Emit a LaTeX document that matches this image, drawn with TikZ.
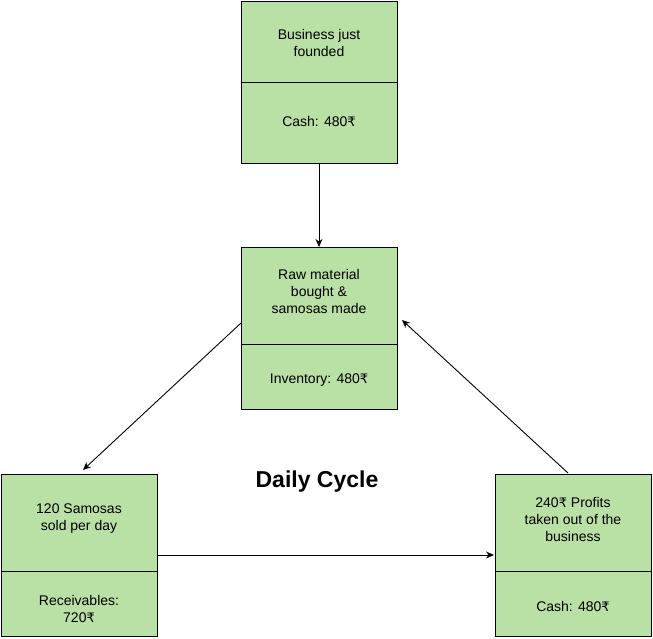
\documentclass[tikz,border=0pt]{standalone}
\usepackage{fontspec}
\setmainfont{Liberation Sans}
\newfontfamily\rupfont{DejaVu Sans}
\usetikzlibrary{arrows.meta,calc}
\newcommand{\Rs}{{\rupfont\fontsize{13}{17}\selectfont ₹}}
\definecolor{boxgreen}{HTML}{B9E0A5}
\tikzset{
  box/.style={draw=black, fill=boxgreen, line width=1pt, minimum width=156pt, minimum height=162pt, inner sep=0pt},
  divider/.style={draw=black, line width=1pt},
  txt/.style={align=center, inner sep=0pt, font=\fontsize{14}{17}\selectfont},
  conn/.style={draw=black, line width=0.9pt, -{Stealth[length=8pt,width=7pt]}},
}
\begin{document}
\begin{tikzpicture}[x=1pt,y=-1pt]
\useasboundingbox (0,0) rectangle (653,638);
% boxes
\node[box] (top) at (319,82) {};
\node[box] (mid) at (319,328.5) {};
\node[box] (left) at (79,555.5) {};
\node[box] (right) at (573,555.5) {};
% dividers
\draw[divider] (241,82) -- (397,82);
\draw[divider] (241,344) -- (397,344);
\draw[divider] (1,571) -- (157,571);
\draw[divider] (495,571) -- (651,571);
% texts
\node[txt] (t1) at (319,42.5) {Business just\\founded};
\node[txt] (t2) at (319,121) {Cash: 480\Rs};
\node[txt] (m1) at (319,291.5) {Raw material\\bought \&\\samosas made};
\node[txt] (m2) at (319,380) {Inventory: 480\Rs};
\node[txt] (l1) at (79,518.5) {120 Samosas\\sold per day};
\node[txt] (l2) at (79,608.5) {Receivables:\\720\Rs};
\node[txt] (r1) at (573,519) {240\Rs{} Profits\\taken out of the\\business};
\node[txt] (r2) at (573,606) {Cash: 480\Rs};
\node[font=\bfseries\fontsize{23}{27}\selectfont, inner sep=0pt] (title) at (317,482) {Daily Cycle};
% connector end points
\coordinate (midL) at (241,323);
\coordinate (leftT) at (83,470);
\coordinate (leftR) at (157,555);
\coordinate (rightL) at (494,555);
\coordinate (rightT) at (568,473);
\coordinate (midR) at (402,320);
% connectors
\draw[conn] (top.south) -- (mid.north);
\draw[conn] (midL) -- (leftT);
\draw[conn] (leftR) -- (rightL);
\draw[conn] (rightT) -- (midR);
\end{tikzpicture}
\end{document}
